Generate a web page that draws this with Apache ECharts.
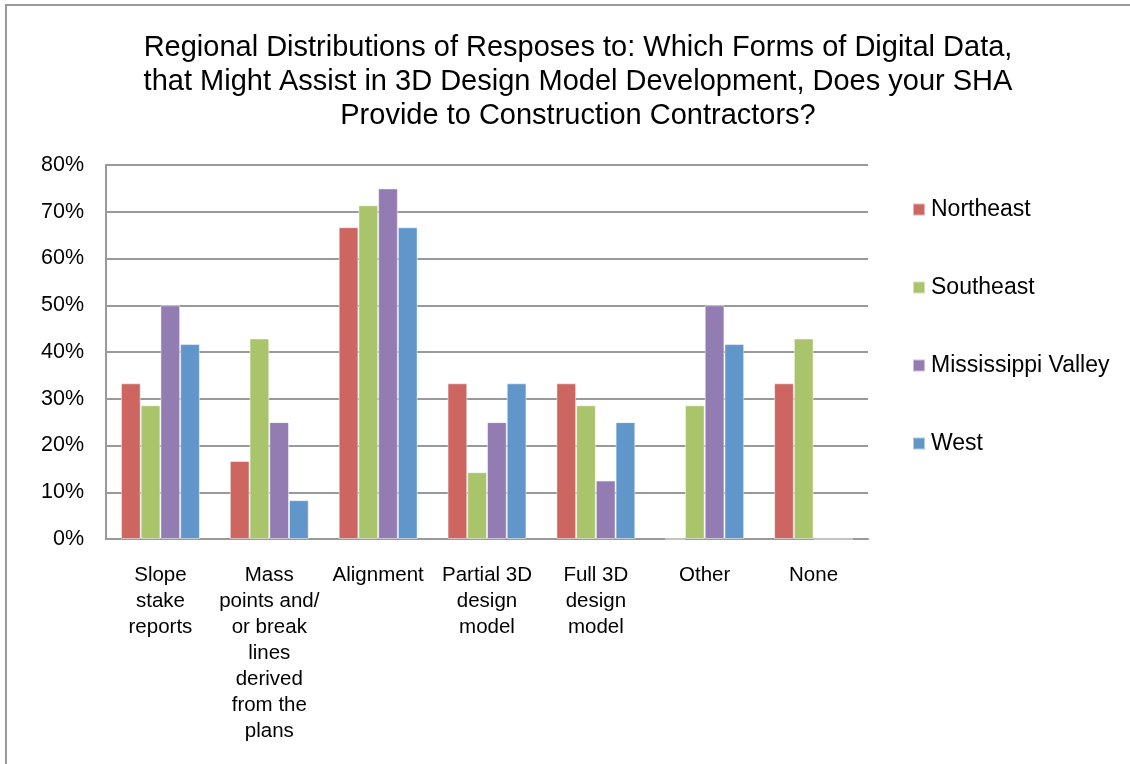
<!DOCTYPE html>
<html>
<head>
<meta charset="utf-8">
<script src="https://cdn.jsdelivr.net/npm/echarts@6/dist/echarts.min.js"></script>
<style>
html,body{margin:0;padding:0;background:#fff;}
#c{width:1130px;height:764px;}
</style>
</head>
<body>
<div id="c"></div>
<script>
const categories = ["Slope\nstake\nreports", "Mass\npoints and/\nor break\nlines\nderived\nfrom the\nplans", "Alignment", "Partial 3D\ndesign\nmodel", "Full 3D\ndesign\nmodel", "Other", "None"];
const seriesNames = ["Northeast", "Southeast", "Mississippi Valley", "West"];
const northeast = [33.3, 16.7, 66.7, 33.3, 33.3, 0, 33.3];
const southeast = [28.6, 42.9, 71.4, 14.3, 28.6, 28.6, 42.9];
const mississippiValley = [50, 25, 75, 25, 12.5, 50, 0];
const west = [41.7, 8.3, 66.7, 33.3, 25, 41.7, 0];
const colors = ["#CD6661", "#AAC46C", "#937CB1", "#6196CB"];
const titleText = "Regional Distributions of Resposes to: Which Forms of Digital Data,\nthat Might Assist in 3D Design Model Development, Does your SHA\nProvide to Construction Contractors?";

const chart = echarts.init(document.getElementById('c'), null, {renderer: 'canvas'});
const allData = [northeast, southeast, mississippiValley, west];
chart.setOption({
  animation: false,
  backgroundColor: '#fff',
  color: colors,
  graphic: [{
    type: 'rect',
    shape: {x: 6, y: 5, width: 1200, height: 900},
    style: {fill: 'none', stroke: '#999', lineWidth: 2},
    silent: true
  }],
  title: {
    text: titleText,
    left: 573,
    textAlign: 'center',
    top: 26,
    textStyle: {fontFamily: 'Liberation Sans, Arial', fontSize: 29, fontWeight: 'normal', color: '#000', lineHeight: 34}
  },
  legend: {
    orient: 'vertical',
    left: 912,
    top: 198,
    padding: 0,
    itemGap: 55,
    itemWidth: 12,
    itemHeight: 12,
    icon: 'rect',
    textStyle: {fontFamily: 'Liberation Sans, Arial', fontSize: 23, color: '#000', padding: [0,0,0,1]},
    data: seriesNames
  },
  grid: {left: 106, right: 262, top: 165, bottom: 225, containLabel: false},
  xAxis: {
    type: 'category',
    data: categories,
    axisLine: {show: true, lineStyle: {color: '#999', width: 2}},
    axisTick: {show: false},
    axisLabel: {interval: 0, fontFamily: 'Liberation Sans, Arial', fontSize: 20.5, color: '#000', lineHeight: 26, margin: 23}
  },
  yAxis: {
    type: 'value',
    min: 0, max: 80, interval: 10,
    axisLine: {show: true, lineStyle: {color: '#999', width: 2}},
    axisTick: {show: false},
    splitLine: {lineStyle: {color: '#999', width: 2}},
    axisLabel: {formatter: '{value}%', fontFamily: 'Liberation Sans, Arial', fontSize: 21.5, color: '#000', margin: 22}
  },
  series: seriesNames.map((n, i) => ({
    name: n,
    type: 'bar',
    data: allData[i],
    barGap: '0%',
    barCategoryGap: '27.5%',
    itemStyle: {borderColor: 'rgba(255,255,255,0.5)', borderWidth: 1}
  }))
});
</script>
</body>
</html>
